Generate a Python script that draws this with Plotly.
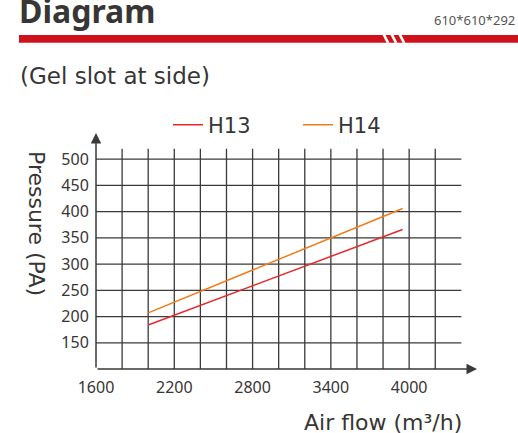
import plotly.graph_objects as go

# chart values
airflow = [2000, 3950]
h13_pressure = [184, 366]
h14_pressure = [207, 406]

x_ticks = [1600, 2200, 2800, 3400, 4000]
y_ticks = [150, 200, 250, 300, 350, 400, 450, 500]
x_grid = [1800, 2000, 2200, 2400, 2600, 2800, 3000, 3200, 3400, 3600, 3800, 4000, 4200]
y_grid = [150, 200, 250, 300, 350, 400, 450, 500]

X_MIN, X_MAX, X_GRID_END, X_ARROW = 1600, 4520, 4400, 4520
Y_MIN, Y_MAX, Y_GRID_END, Y_ARROW = 100, 550, 520, 550

W, H = 518, 433
PLOT_L, PLOT_R, PLOT_T, PLOT_B = 96, 477, 133, 369

FONT = "Noto Sans"
TITLE_FONT = "DejaVu Sans"
INK = "#383535"
GRID = "#3a3a3a"
RED = "#e52a2a"
ORANGE = "#f07b1a"


def px(x):
    return (x - PLOT_L) / (PLOT_R - PLOT_L)


def py(y):
    return (PLOT_B - y) / (PLOT_B - PLOT_T)


# grid as one broken line trace
gx, gy = [], []
for v in x_grid:
    gx += [v, v, None]
    gy += [Y_MIN, Y_GRID_END, None]
for h in y_grid:
    gx += [X_MIN, X_GRID_END, None]
    gy += [h, h, None]

fig = go.Figure()
fig.add_trace(go.Scatter(x=gx, y=gy, mode='lines', line=dict(color=GRID, width=1.3),
                         showlegend=False, hoverinfo='skip'))
fig.add_trace(go.Scatter(x=airflow, y=h13_pressure, mode='lines', name='H13',
                         line=dict(color=RED, width=1.5)))
fig.add_trace(go.Scatter(x=airflow, y=h14_pressure, mode='lines', name='H14',
                         line=dict(color=ORANGE, width=1.5)))

fig.update_layout(
    width=W, height=H,
    margin=dict(l=PLOT_L, r=W - PLOT_R, t=PLOT_T, b=H - PLOT_B, autoexpand=False),
    plot_bgcolor='white', paper_bgcolor='white',
    font=dict(family=FONT, color=INK),
    showlegend=True,
    legend=dict(orientation='h', x=px(168), xanchor='left', y=py(125), yanchor='middle',
                font=dict(size=21, color=INK, family=TITLE_FONT), entrywidth=85, itemwidth=30,
                bgcolor='rgba(0,0,0,0)'),
)
fig.update_xaxes(range=[X_MIN, X_MAX], tickvals=x_ticks, showgrid=False, zeroline=False,
                 showline=False, ticks='outside', ticklen=4, tickcolor='rgba(0,0,0,0)',
                 tickfont=dict(size=16, color=INK))
fig.update_yaxes(range=[Y_MIN, Y_MAX], tickvals=y_ticks, showgrid=False, zeroline=False,
                 showline=False, ticks='outside', ticklen=3, tickcolor='rgba(0,0,0,0)',
                 tickfont=dict(size=16, color=INK))

# axis arrows
arrow = dict(text='', showarrow=True, arrowhead=2, arrowsize=1.4, arrowwidth=1.5,
             arrowcolor=GRID, axref='x', ayref='y', xref='x', yref='y', standoff=0)
fig.add_annotation(x=X_MIN, y=Y_ARROW, ax=X_MIN, ay=Y_MIN, **arrow)
fig.add_annotation(x=X_ARROW, y=Y_MIN, ax=X_MIN, ay=Y_MIN, **arrow)

# header
fig.add_annotation(text='Diagram', xref='paper', yref='paper', x=px(17), y=py(10),
                   xanchor='left', yanchor='middle', showarrow=False,
                   font=dict(size=32, color=INK, weight=700))
fig.add_annotation(text='610*610*292', xref='paper', yref='paper', x=px(517), y=py(20),
                   xanchor='right', yanchor='middle', showarrow=False,
                   font=dict(size=13, color='#555555'))
fig.add_annotation(text='(Gel slot at side)', xref='paper', yref='paper', x=px(18), y=py(76),
                   xanchor='left', yanchor='middle', showarrow=False,
                   font=dict(size=23, color=INK, family=TITLE_FONT))
fig.add_annotation(text='Pressure (PA)', xref='paper', yref='paper', x=px(37), y=py(224),
                   xanchor='center', yanchor='middle', textangle=90, showarrow=False,
                   font=dict(size=22, color=INK, family=TITLE_FONT))
fig.add_annotation(text='Air flow (m³/h)', xref='paper', yref='paper', x=px(383), y=py(422),
                   xanchor='center', yanchor='middle', showarrow=False,
                   font=dict(size=22, color=INK, family=TITLE_FONT))

# red header bar with white slashes
fig.add_shape(type='rect', xref='paper', yref='paper', x0=px(19), x1=px(518),
              y0=py(42.7), y1=py(35), fillcolor='#cf111b', line_width=0, layer='above')
for a in [382.5, 390.5, 398.5]:
    path = 'M {} {} L {} {} L {} {} L {} {} Z'.format(
        px(a), py(35), px(a + 3), py(35), px(a + 7), py(42.7), px(a + 4), py(42.7))
    fig.add_shape(type='path', xref='paper', yref='paper', path=path,
                  fillcolor='white', line_width=0, layer='above')

fig.write_html("out.html", config={'displayModeBar': False},
               post_script="document.body.style.margin='0';")
